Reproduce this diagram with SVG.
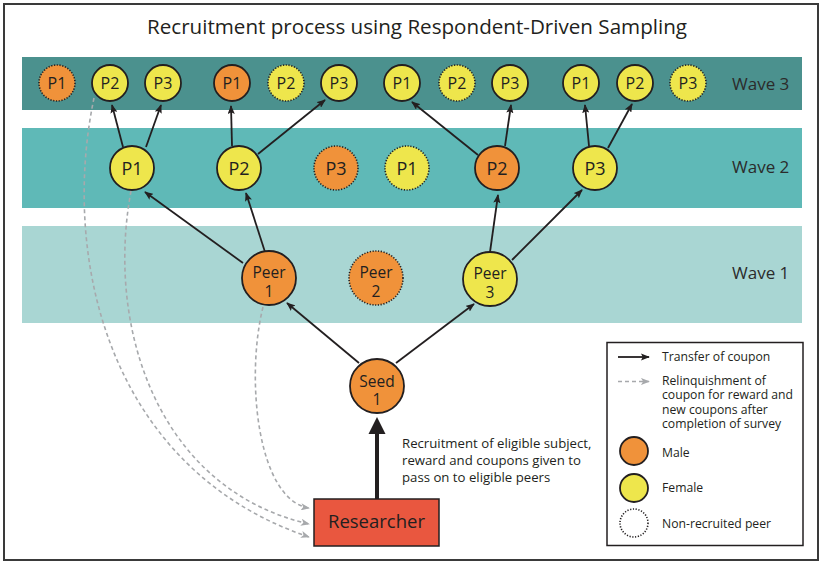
<svg xmlns="http://www.w3.org/2000/svg" width="825" height="567" viewBox="0 0 825 567">
<style>
  text { font-family: "Open Sans", "Noto Sans", "Liberation Sans", sans-serif; fill: #231f20; }
  .band3 { fill: #4b918e; }
  .band2 { fill: #5fb9b7; }
  .band1 { fill: #a9d6d3; }
  .m { fill: #f0923a; stroke: #231f20; stroke-width: 1.8; }
  .f { fill: #eee64c; stroke: #231f20; stroke-width: 1.8; }
  .nr { stroke-dasharray: 1.2 1.6; stroke-width: 1.6; }
  .t3 { font-size: 16px; text-anchor: middle; }
  .t2 { font-size: 18px; text-anchor: middle; }
  .tp { font-size: 15.5px; text-anchor: middle; }
  .wave { font-size: 17px; fill: #2b2b2b; }
  .ann { font-size: 13.2px; }
  .leg { font-size: 12.2px; }
  .edge { stroke: #231f20; stroke-width: 1.8; fill: none; marker-end: url(#arr); }
  .dash { stroke: #a7a9ac; stroke-width: 1.6; fill: none; stroke-dasharray: 4 3; marker-end: url(#darr); }
</style>
<defs>
  <marker id="arr" viewBox="0 0 10 8" refX="9" refY="4" markerWidth="9" markerHeight="7.2" markerUnits="userSpaceOnUse" orient="auto">
    <path d="M0,0 L10,4 L0,8 L2,4 z" fill="#231f20"/>
  </marker>
  <marker id="darr" viewBox="0 0 10 8" refX="9" refY="4" markerWidth="9" markerHeight="7.2" markerUnits="userSpaceOnUse" orient="auto">
    <path d="M0,0 L10,4 L0,8 L2.5,4 z" fill="#a7a9ac"/>
  </marker>
</defs>

<rect x="0" y="0" width="825" height="567" fill="#ffffff"/>
<rect x="4" y="4" width="814" height="556" fill="#ffffff" stroke="#3a3a3a" stroke-width="2"/>

<text x="417" y="34" font-size="20" text-anchor="middle" textLength="540" lengthAdjust="spacingAndGlyphs">Recruitment process using Respondent-Driven Sampling</text>

<g id="bands">
  <rect class="band3" x="22" y="57" width="780" height="53"/>
  <rect class="band2" x="22" y="128" width="780" height="80"/>
  <rect class="band1" x="22" y="226" width="780" height="97"/>
  <text class="wave" x="732" y="90">Wave 3</text>
  <text class="wave" x="732" y="173">Wave 2</text>
  <text class="wave" x="732" y="279">Wave 1</text>
</g>

<g id="connectors">
  <line class="edge" x1="123" y1="147" x2="112" y2="105"/>
  <line class="edge" x1="146" y1="147" x2="161" y2="105"/>
  <line class="edge" x1="232" y1="146" x2="231" y2="106"/>
  <line class="edge" x1="258" y1="154" x2="325" y2="100"/>
  <line class="edge" x1="478" y1="155" x2="412" y2="102"/>
  <line class="edge" x1="505" y1="146" x2="511" y2="105"/>
  <line class="edge" x1="589" y1="146" x2="585" y2="105"/>
  <line class="edge" x1="608" y1="148" x2="632" y2="104"/>
  <line class="edge" x1="243" y1="263" x2="145" y2="192"/>
  <line class="edge" x1="265" y1="252" x2="246" y2="193"/>
  <line class="edge" x1="490" y1="252" x2="498" y2="195"/>
  <line class="edge" x1="512" y1="260" x2="582" y2="190"/>
  <line class="edge" x1="359" y1="363" x2="287" y2="303"/>
  <line class="edge" x1="396" y1="363" x2="474" y2="304"/>
  <path class="dash" d="M263,307 C245,380 258,500 309,508"/>
  <path class="dash" d="M131,191 C105,330 160,490 309,524"/>
  <path class="dash" d="M94,98 C60,260 110,470 309,537"/>
  <line x1="377" y1="499" x2="377" y2="430" stroke="#231f20" stroke-width="4"/>
  <polygon points="377,417 368.5,434 385.5,434" fill="#231f20"/>
</g>

<g id="wave3">
  <g id="w3-g1-p1"><circle class="m nr" cx="57" cy="83" r="18"/><text class="t3" x="57" y="89">P1</text></g>
  <g id="w3-g1-p2"><circle class="f" cx="110" cy="83" r="18"/><text class="t3" x="110" y="89">P2</text></g>
  <g id="w3-g1-p3"><circle class="f" cx="163" cy="83" r="18"/><text class="t3" x="163" y="89">P3</text></g>
  <g id="w3-g2-p1"><circle class="m" cx="232" cy="83" r="18"/><text class="t3" x="232" y="89">P1</text></g>
  <g id="w3-g2-p2"><circle class="f nr" cx="286" cy="83" r="18"/><text class="t3" x="286" y="89">P2</text></g>
  <g id="w3-g2-p3"><circle class="f" cx="339" cy="83" r="18"/><text class="t3" x="339" y="89">P3</text></g>
  <g id="w3-g3-p1"><circle class="f" cx="402" cy="83" r="18"/><text class="t3" x="402" y="89">P1</text></g>
  <g id="w3-g3-p2"><circle class="f nr" cx="457" cy="83" r="18"/><text class="t3" x="457" y="89">P2</text></g>
  <g id="w3-g3-p3"><circle class="f" cx="510" cy="83" r="18"/><text class="t3" x="510" y="89">P3</text></g>
  <g id="w3-g4-p1"><circle class="f" cx="581" cy="83" r="18"/><text class="t3" x="581" y="89">P1</text></g>
  <g id="w3-g4-p2"><circle class="f" cx="635" cy="83" r="18"/><text class="t3" x="635" y="89">P2</text></g>
  <g id="w3-g4-p3"><circle class="f nr" cx="688" cy="83" r="18"/><text class="t3" x="688" y="89">P3</text></g>
</g>

<g id="wave2">
  <g id="w2-p1a"><circle class="f" cx="132" cy="168" r="22"/><text class="t2" x="132" y="174.5">P1</text></g>
  <g id="w2-p2a"><circle class="f" cx="239" cy="168" r="22"/><text class="t2" x="239" y="174.5">P2</text></g>
  <g id="w2-p3a"><circle class="m nr" cx="336" cy="168" r="22"/><text class="t2" x="336" y="174.5">P3</text></g>
  <g id="w2-p1b"><circle class="f nr" cx="407" cy="168" r="22"/><text class="t2" x="407" y="174.5">P1</text></g>
  <g id="w2-p2b"><circle class="m" cx="497" cy="168" r="22"/><text class="t2" x="497" y="174.5">P2</text></g>
  <g id="w2-p3b"><circle class="f" cx="595" cy="168" r="22"/><text class="t2" x="595" y="174.5">P3</text></g>
</g>

<g id="wave1">
  <g id="peer1"><circle class="m" cx="269" cy="278" r="27"/><text class="tp" x="269" y="278">Peer<tspan x="269" dy="18.5">1</tspan></text></g>
  <g id="peer2"><circle class="m nr" cx="376" cy="278" r="27"/><text class="tp" x="376" y="278">Peer<tspan x="376" dy="18.5">2</tspan></text></g>
  <g id="peer3"><circle class="f" cx="490" cy="279" r="27"/><text class="tp" x="490" y="279">Peer<tspan x="490" dy="18.5">3</tspan></text></g>
</g>

<g id="seed1"><circle class="m" cx="377" cy="386" r="27"/><text class="tp" x="377" y="386.5">Seed<tspan x="377" dy="18.5">1</tspan></text></g>

<g id="researcher">
  <rect x="314" y="499" width="125" height="47" fill="#e9573f" stroke="#231f20" stroke-width="1.5"/>
  <text x="376.5" y="528" font-size="18.5" text-anchor="middle">Researcher</text>
</g>

<g id="annotation">
  <text class="ann" x="402" y="448">Recruitment of eligible subject,<tspan x="402" dy="17">reward and coupons given to</tspan><tspan x="402" dy="17">pass on to eligible peers</tspan></text>
</g>

<g id="legend">
  <rect x="607" y="342.5" width="196" height="203" fill="#ffffff" stroke="#231f20" stroke-width="1.5"/>
  <line class="edge" x1="618" y1="357" x2="649" y2="357"/>
  <text class="leg" x="662" y="361">Transfer of coupon</text>
  <line class="dash" x1="618" y1="381.5" x2="649" y2="381.5"/>
  <text class="leg" x="662" y="384.5">Relinquishment of<tspan x="662" dy="14.6">coupon for reward and</tspan><tspan x="662" dy="14.6">new coupons after</tspan><tspan x="662" dy="14.6">completion of survey</tspan></text>
  <circle class="m" cx="634" cy="451" r="14"/>
  <text class="leg" x="662" y="456.5">Male</text>
  <circle class="f" cx="634" cy="488" r="14"/>
  <text class="leg" x="662" y="492">Female</text>
  <circle cx="634" cy="523" r="14" fill="none" stroke="#231f20" stroke-width="1.6" stroke-dasharray="1.2 1.6"/>
  <text class="leg" x="662" y="527.5">Non-recruited peer</text>
</g>
</svg>
